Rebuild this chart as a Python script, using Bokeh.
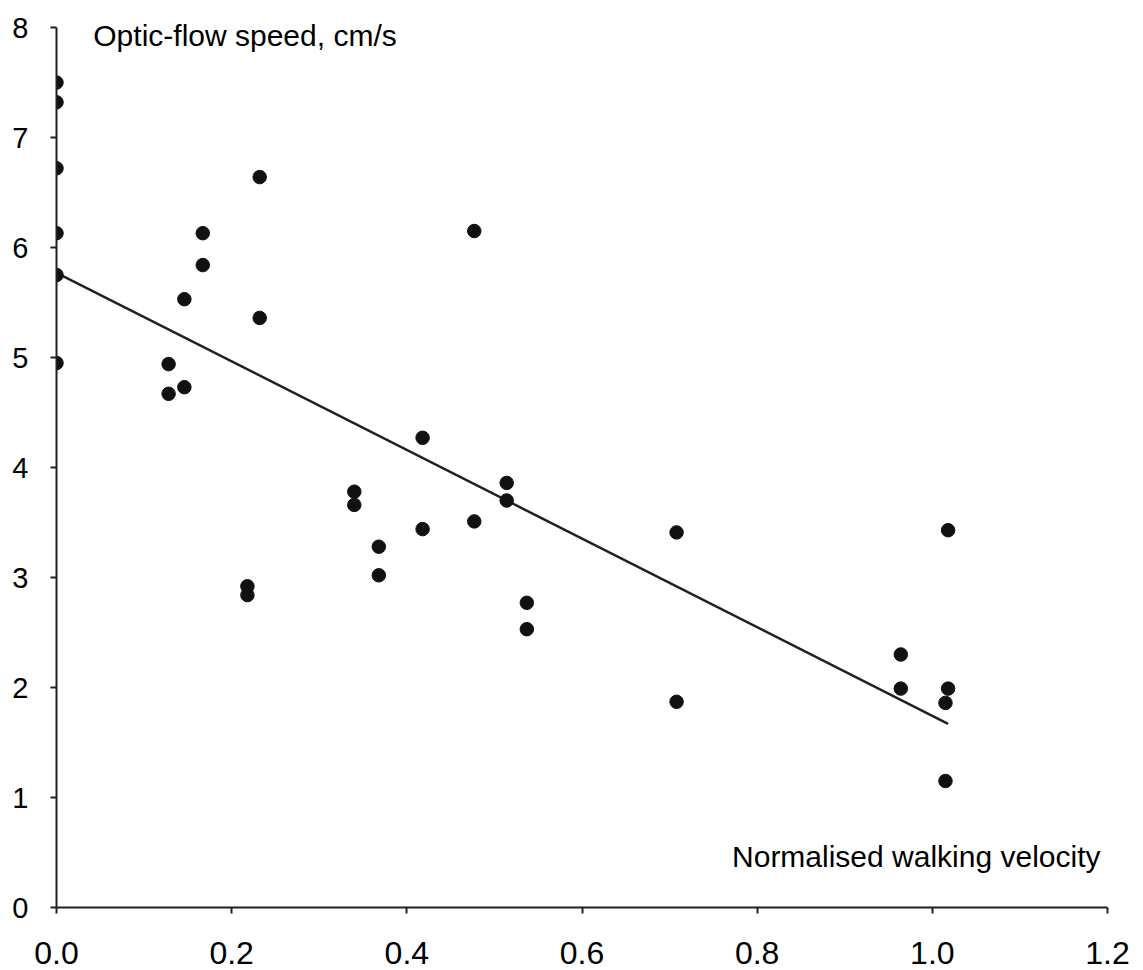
from bokeh.plotting import figure
from bokeh.models import Range1d, FixedTicker, NumeralTickFormatter, Label, ColumnDataSource
from bokeh.embed import file_html
from bokeh.resources import INLINE

# Data
walk_velocity = [0.0, 0.0, 0.0, 0.0, 0.0, 0.0,
                 0.128, 0.128, 0.146, 0.146, 0.167, 0.167,
                 0.218, 0.218, 0.232, 0.232, 0.340, 0.340,
                 0.368, 0.368, 0.418, 0.418, 0.477, 0.477,
                 0.514, 0.514, 0.537, 0.537, 0.708, 0.708,
                 0.964, 0.964, 1.015, 1.015, 1.018, 1.018]
flow_speed = [7.50, 7.32, 6.72, 6.13, 5.75, 4.95,
              4.94, 4.67, 5.53, 4.73, 6.13, 5.84,
              2.92, 2.84, 6.64, 5.36, 3.78, 3.66,
              3.28, 3.02, 4.27, 3.44, 6.15, 3.51,
              3.86, 3.70, 2.77, 2.53, 3.41, 1.87,
              2.30, 1.99, 1.86, 1.15, 3.43, 1.99]
trend_x = [0.0, 1.018]
trend_y = [5.77, 1.67]
x_ticks = [0.0, 0.2, 0.4, 0.6, 0.8, 1.0, 1.2]
y_ticks = [0, 1, 2, 3, 4, 5, 6, 7, 8]

FONT = "Liberation Sans"
INK = "#231f20"

p = figure(frame_width=1051, frame_height=902, output_backend="svg", toolbar_location=None,
           x_range=Range1d(0, 1.2), y_range=Range1d(0, 8.2),
           min_border_left=56, min_border_right=36, min_border_top=5, min_border_bottom=63)
p.outline_line_color = None
p.xgrid.visible = False
p.ygrid.visible = False
p.background_fill_color = "white"
p.border_fill_color = "white"

for ax in (p.xaxis[0], p.yaxis[0]):
    ax.axis_line_color = INK
    ax.axis_line_width = 2
    ax.major_tick_line_color = INK
    ax.major_tick_line_width = 2
    ax.major_tick_in = 0
    ax.major_tick_out = 6
    ax.minor_tick_line_color = None
    ax.major_label_text_font = FONT
    ax.major_label_text_color = "black"

p.xaxis[0].ticker = FixedTicker(ticks=x_ticks)
p.xaxis[0].formatter = NumeralTickFormatter(format="0.0")
p.xaxis[0].major_label_standoff = 28
p.xaxis[0].major_label_text_font_size = "32px"
p.yaxis[0].ticker = FixedTicker(ticks=y_ticks)
p.yaxis[0].bounds = (0, 8)
p.yaxis[0].major_label_standoff = 22
p.yaxis[0].major_label_text_font_size = "29px"

p.line(trend_x, trend_y, line_color=INK, line_width=2.5)
src = ColumnDataSource(dict(x=walk_velocity, y=flow_speed))
p.scatter("x", "y", source=src, size=13.5, fill_color="#111111", line_color="#111111")

p.add_layout(Label(x=0.042, y=7.93, text="Optic-flow speed, cm/s", text_font=FONT,
                   text_font_size="30px", text_color="black", text_baseline="alphabetic"))
p.add_layout(Label(x=1.192, y=0.46, text="Normalised walking velocity", text_font=FONT,
                   text_font_size="30px", text_color="black", text_align="right",
                   text_baseline="alphabetic"))

open("out.html", "w").write(file_html(p, INLINE))
